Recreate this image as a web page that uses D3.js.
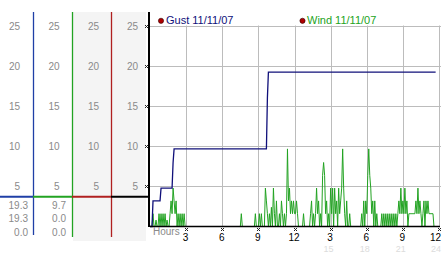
<!DOCTYPE html>
<html><head><meta charset="utf-8">
<script src="https://cdn.jsdelivr.net/npm/d3@7"></script>
<style>body{margin:0;background:#fff}svg{display:block}text{font-family:"Liberation Sans",Arial,sans-serif}</style>
</head><body>
<script>
const yTicks = [5, 10, 15, 20, 25];
const xTicks = [3, 6, 9, 12, 15, 18, 21, 24];
const xTickLabels = ["3", "6", "9", "12", "3", "6", "9", "12"];
const xTickSubLabels = ["", "", "", "", "15", "18", "21", "24"];
const legendLabels = ["Gust 11/11/07", "Wind 11/11/07"];
const summaryGust = ["19.3", "19.3", "0.0"];
const summaryWind = ["9.7", "0.0", "0.0"];
const gustTimes  = [0, 0.167, 0.25, 0.833, 0.917, 1.833, 1.917, 2.0, 9.667, 9.75, 9.833, 23.72];
const gustValues = [0, 0,     3.2,  3.2,   4.8,   4.8,   8.0,   9.7, 9.7,   16.1, 19.3,  19.3];
// wind, one sample every 5 minutes from 0:00
const windValues = [
0,0,0,1.6,0,0,0.8,0,0,1.6,
0,1.6,0,1.6,0,1.6,0,0.8,0,0,
1.6,3.2,1.6,4.8,3.2,1.6,3.2,0,1.6,0,
1.6,0,1.6,0,1.6,0,0,0,0,0,
0,0,0,0,0,0,0,0,0,0,
0,0,0,0,0,0,0,0,0,0,
0,0,0,0,0,0,0,0,0,0,
0,0,0,0,0,0,0,0,0,0,
0,0,0,0,0,0,0,0,0,0,
0,1.6,0,0,0,0,0,0,0,0,
0,0,0,0,0,1.6,0,0,0,1.6,
0,1.6,0,0,0,4.8,3.2,1.6,0,1.6,
0,2.4,0,4.8,1.6,0,3.2,0,0,1.6,
0,3.2,1.6,0,1.6,0,1.6,9.7,3.2,4.8,
1.6,3.2,1.6,3.2,1.6,1.6,3.2,1.6,0,0,
0,0,0,1.6,0,0,0,0,0,0,
1.6,3.2,0,1.6,0,1.6,4.8,1.6,3.2,0,
1.6,0,6.4,8.0,6.4,1.6,3.2,0,1.6,0,
4.8,1.6,4.8,0,4.8,1.6,3.2,0,4.8,1.6,
3.2,4.8,9.7,4.8,1.6,0,3.2,0,0,1.6,
0,0,0,0,0,0,0,0,0,0,
0,1.6,0,3.2,0,3.2,1.6,6.4,9.7,6.4,
4.8,1.6,3.2,0,3.2,0,1.6,0,0,0,
0,1.6,0,1.6,0,1.6,0,1.6,0,1.6,
0,1.6,0,1.6,0,1.6,0,1.6,3.2,1.6,
4.8,1.6,3.2,1.6,4.8,1.6,3.2,0,1.6,1.6,
1.6,1.6,1.6,1.6,1.6,3.2,1.6,4.8,1.6,3.2,
1.6,0,1.6,3.2,0,3.2,1.6,3.2,1.6,1.6,
1.6,1.6,1.6,0,0
];

const BLUE = "#1f3fa6", GREEN = "#22a322", RED = "#b02020", NAVY = "#10107a", LABEL = "#8a8a8a";
const svg = d3.select("body").append("svg").attr("width", 442).attr("height", 253);
const x = d3.scaleLinear().domain([0, 24]).range([150, 439]);
const y = d3.scaleLinear().domain([0, 25]).range([226.5, 26.5]);

// left panel
svg.append("rect").attr("x", 73).attr("y", 12).attr("width", 73).attr("height", 229).attr("fill", "#f4f4f4");
const cols = [{r: 20}, {r: 59.5}, {r: 99}, {r: 138}];
cols.forEach(c => {
  svg.append("g").selectAll("text").data(yTicks).join("text")
    .attr("x", c.r).attr("y", d => y(d) + 3.5).attr("text-anchor", "end")
    .attr("font-size", 10).attr("fill", LABEL).text(d => d);
});
const vlines = [{x: 33.5, c: BLUE, y2: 235}, {x: 72.5, c: GREEN, y2: 237}, {x: 111.5, c: RED, y2: 237}];
svg.append("g").selectAll("line").data(vlines).join("line")
  .attr("x1", d => d.x).attr("x2", d => d.x).attr("y1", 12).attr("y2", d => d.y2)
  .attr("stroke", d => d.c).attr("stroke-width", 1.3);
const hsegs = [{a: 0, b: 33, c: BLUE}, {a: 33, b: 72, c: GREEN}, {a: 72, b: 111, c: RED}, {a: 111, b: 150, c: "#000"}];
svg.append("g").selectAll("line").data(hsegs).join("line")
  .attr("x1", d => d.a).attr("x2", d => d.b).attr("y1", 196.7).attr("y2", 196.7)
  .attr("stroke", d => d.c).attr("stroke-width", 2);
svg.append("g").selectAll("text").data(summaryGust).join("text")
  .attr("x", 28).attr("y", (d, i) => 208.5 + i * 13.5).attr("text-anchor", "end")
  .attr("font-size", 10).attr("fill", LABEL).text(d => d);
svg.append("g").selectAll("text").data(summaryWind).join("text")
  .attr("x", 66).attr("y", (d, i) => 208.5 + i * 13.5).attr("text-anchor", "end")
  .attr("font-size", 10).attr("fill", LABEL).text(d => d);

// grid
svg.append("g").selectAll("line").data(yTicks).join("line")
  .attr("x1", 150).attr("x2", 441).attr("y1", d => Math.round(y(d)) - 0.5).attr("y2", d => Math.round(y(d)) - 0.5)
  .attr("stroke", "#bcbcbc").attr("stroke-width", 1);
svg.append("g").selectAll("line").data(xTicks).join("line")
  .attr("x1", d => Math.round(x(d)) + 0.5).attr("x2", d => Math.round(x(d)) + 0.5)
  .attr("y1", y(25) - 1).attr("y2", y(0))
  .attr("stroke", "#bcbcbc").attr("stroke-width", 1);

// tick glyphs
function glyph(g, cx, cy) {
  [[0,0],[2,0],[1,1],[0,2],[2,2]].forEach(p =>
    g.append("rect").attr("x", cx + p[0]).attr("y", cy + p[1]).attr("width", 1).attr("height", 1).attr("fill", "#222"));
}
const gg = svg.append("g");
yTicks.forEach(v => glyph(gg, 145, Math.round(y(v)) - 2));
xTicks.forEach(t => glyph(gg, Math.round(x(t)) - 1, 228));

// data lines
svg.append("path").datum(windValues)
  .attr("d", d3.line().x((d, i) => x(i / 12)).y(d => y(d)))
  .attr("fill", "none").attr("stroke", GREEN).attr("stroke-width", 1);
svg.append("path").datum(gustTimes.map((t, i) => [t, gustValues[i]]))
  .attr("d", d3.line().x(d => x(d[0])).y(d => y(d[1])))
  .attr("fill", "none").attr("stroke", NAVY).attr("stroke-width", 1.3);

// axes lines
svg.append("line").attr("x1", 150).attr("x2", 440).attr("y1", 226.5).attr("y2", 226.5).attr("stroke", "#000").attr("stroke-width", 1.6);
svg.append("line").attr("x1", 149).attr("x2", 149).attr("y1", 12).attr("y2", 227).attr("stroke", "#000").attr("stroke-width", 2);

// x labels
svg.append("text").attr("x", 153).attr("y", 235).attr("font-size", 10).attr("fill", LABEL).text("Hours");
svg.append("g").selectAll("text").data(xTicks).join("text")
  .attr("x", (d, i) => i === xTicks.length - 1 ? 441 : x(d) - 0.5)
  .attr("y", 241).attr("text-anchor", (d, i) => i === xTicks.length - 1 ? "end" : "middle")
  .attr("font-size", 10).attr("fill", "#000").text((d, i) => xTickLabels[i]);
svg.append("g").selectAll("text").data(xTicks).join("text")
  .attr("x", (d, i) => i === xTicks.length - 1 ? 441 : x(d) - 2)
  .attr("y", 251.5).attr("text-anchor", (d, i) => i === xTicks.length - 1 ? "end" : "middle")
  .attr("font-size", 9).attr("fill", "#dcdcdc").text((d, i) => xTickSubLabels[i]);

// legend
const leg = [{cx: 161, tx: 166, c: NAVY}, {cx: 302.5, tx: 307, c: GREEN}];
leg.forEach((l, i) => {
  svg.append("circle").attr("cx", l.cx).attr("cy", 20.8).attr("r", 2.6).attr("fill", "#b00000").attr("stroke", "#300").attr("stroke-width", 0.6);
  svg.append("text").attr("x", l.tx).attr("y", 24).attr("font-size", 11).attr("fill", l.c).text(legendLabels[i]);
});
</script>
</body></html>
